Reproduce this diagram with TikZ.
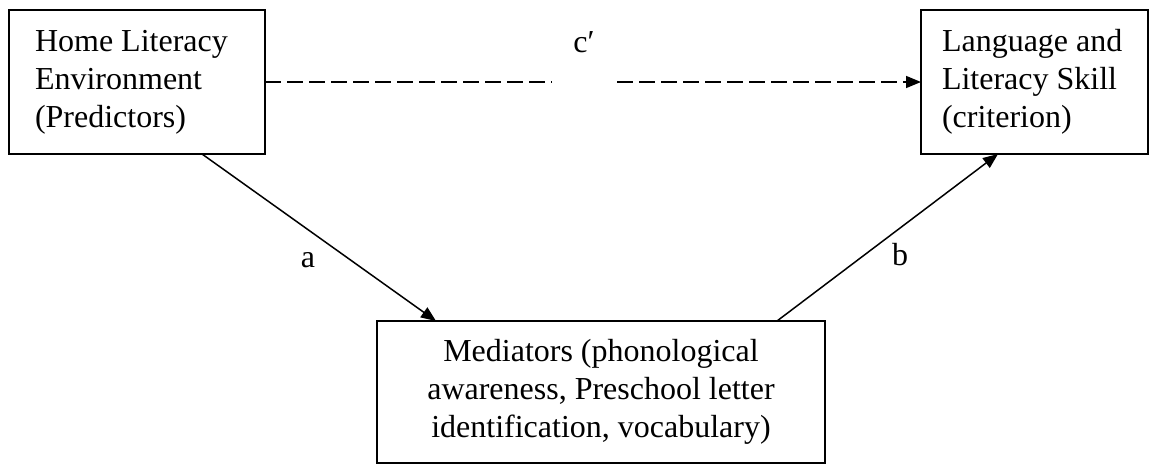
\documentclass[tikz,border=0pt]{standalone}
\usepackage{fontspec}
\setmainfont{Liberation Serif}
\usetikzlibrary{arrows.meta}

\begin{document}
\begin{tikzpicture}[x=1pt, y=-1pt,
        txt/.style={font=\fontsize{32}{38}\selectfont},
        box/.style={txt, draw, line width=2pt, outer sep=0pt, inner ysep=0pt},
        lbl/.style={txt, anchor=base, inner sep=0pt},
        arr/.style={line width=1.5pt, -{Triangle[length=15pt, width=12pt]}}
    ]

    \def\boxh{144}
    \def\midy{82}

    \useasboundingbox (0,0) rectangle (1150,464);

    \node[box, align=flush left, inner xsep=26pt, text width=204pt, minimum height=\boxh pt]
        (home) at (137,\midy) {Home Literacy\\Environment\\(Predictors)};
    \node[box, align=flush left, inner xsep=21pt, text width=185pt, minimum height=\boxh pt]
        (skill) at (1034.5,\midy) {Language and\\Literacy Skill\\(criterion)};
    \node[box, align=flush center, text width=420pt, inner xsep=14pt, minimum height=142pt]
        (mediators) at (601,392) {Mediators (phonological\\awareness, Preschool letter\\identification, vocabulary)};

    % paths
    \draw[arr, dash pattern=on 16pt off 6pt] (home.east) -- (skill.west);
    \draw[arr] ([xshift=-63pt]home.south east) -- ([xshift=59pt]mediators.north west);
    \draw[arr] ([xshift=-48pt]mediators.north east) -- ([xshift=77pt]skill.south west);

    \node[lbl, fill=white, inner xsep=0pt, inner ysep=4pt, text depth=28pt, minimum width=65pt]
        (cprime) at (584,52) {c′};
    \node[lbl] (alab) at (308,267) {a};
    \node[lbl] (blab) at (900,265) {b};
\end{tikzpicture}
\end{document}
